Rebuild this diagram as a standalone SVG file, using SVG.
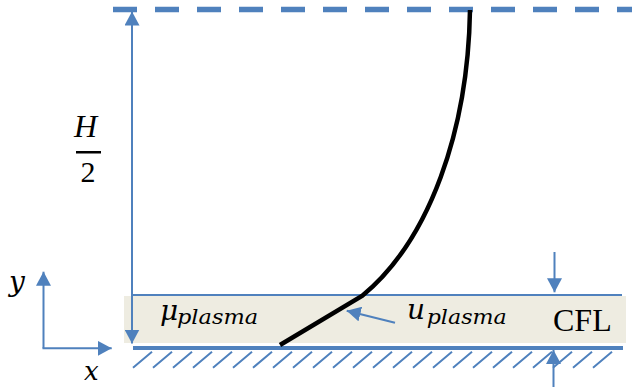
<svg xmlns="http://www.w3.org/2000/svg" width="632" height="387" viewBox="0 0 632 387">
<style>
.b{stroke:#4F81BD;fill:none}
.m{font-family:"DejaVu Serif","Liberation Serif",serif;font-style:italic;fill:#000}
.r{font-family:"Liberation Serif","Times New Roman",serif;fill:#000}
</style>
<defs>
<marker id="ah" viewBox="0 0 14 15" refX="14" refY="7.5" markerWidth="14" markerHeight="15" markerUnits="userSpaceOnUse" orient="auto-start-reverse">
<path d="M0,0 L14,7.5 L0,15 z" fill="#4F81BD"/>
</marker>
</defs>
<rect width="632" height="387" fill="#fff"/>
<g id="band">
<rect x="124" y="296" width="502" height="47" fill="#EEECE1"/>
<line class="b" x1="132" y1="295" x2="622" y2="295" stroke-width="1.8"/>
</g>
<g id="centerline">
<line class="b" x1="113" y1="9.5" x2="632" y2="9.5" stroke-width="5.5" stroke-dasharray="24 18"/>
</g>
<g id="wall">
<line class="b" x1="133" y1="348" x2="623" y2="348" stroke-width="4"/>
<path class="b" stroke-width="2" d="M133,367.7 l19,-16 M153,367.7 l19,-16 M173,367.7 l19,-16 M193,367.7 l19,-16 M213,367.7 l19,-16 M233,367.7 l19,-16 M253,367.7 l19,-16 M273,367.7 l19,-16 M293,367.7 l19,-16 M313,367.7 l19,-16 M333,367.7 l19,-16 M353,367.7 l19,-16 M373,367.7 l19,-16 M393,367.7 l19,-16 M413,367.7 l19,-16 M433,367.7 l19,-16 M453,367.7 l19,-16 M473,367.7 l19,-16 M493,367.7 l19,-16 M513,367.7 l19,-16 M533,367.7 l19,-16 M553,367.7 l19,-16 M573,367.7 l19,-16 M593,367.7 l19,-16"/>
</g>
<g id="profile">
<path d="M470,10 C468,130 430,240 362,296 L280,345" fill="none" stroke="#000" stroke-width="4.5"/>
</g>
<g id="connectors">
<line class="b" x1="132" y1="11.5" x2="132" y2="343.5" stroke-width="2" marker-start="url(#ah)" marker-end="url(#ah)"/>
<line class="b" x1="43.5" y1="348.3" x2="43.5" y2="271.7" stroke-width="2" marker-end="url(#ah)"/>
<line class="b" x1="42.5" y1="348.3" x2="111.7" y2="348.3" stroke-width="2" marker-end="url(#ah)"/>
<line class="b" x1="554.5" y1="252" x2="554.5" y2="292.3" stroke-width="2" marker-end="url(#ah)"/>
<line class="b" x1="553.5" y1="387" x2="553.5" y2="350" stroke-width="2" marker-end="url(#ah)"/>
<line class="b" x1="395" y1="322.7" x2="346.7" y2="310.7" stroke-width="2" marker-end="url(#ah)"/>
</g>
<g id="labels">
<text class="r" x="85.5" y="137" font-size="32" font-style="italic" text-anchor="middle">H</text>
<rect x="76" y="151" width="25" height="2.5" fill="#000"/>
<text class="r" x="88" y="182" font-size="30" text-anchor="middle">2</text>
<text class="m" x="160" y="320" font-size="28">μ</text>
<text class="m" x="177" y="324" font-size="20" textLength="81" lengthAdjust="spacingAndGlyphs">plasma</text>
<text class="m" x="407" y="318.5" font-size="28">u</text>
<text class="m" x="426.7" y="323.5" font-size="20" textLength="80" lengthAdjust="spacingAndGlyphs">plasma</text>
<text class="r" x="553" y="330.5" font-size="32">CFL</text>
<text class="m" x="9" y="291" font-size="28">y</text>
<text class="m" x="84" y="380" font-size="26">x</text>
</g>
</svg>
